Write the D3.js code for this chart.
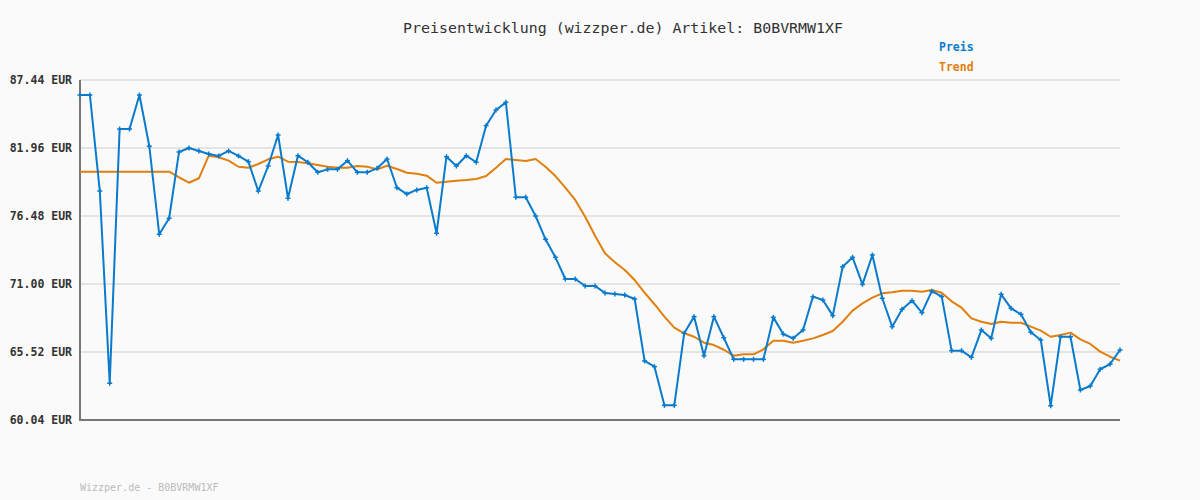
<!DOCTYPE html>
<html><head><meta charset="utf-8">
<script src="https://cdn.jsdelivr.net/npm/d3@7/dist/d3.min.js"></script>
<style>
html,body{margin:0;padding:0;background:#fafafa;}
svg{display:block;}
</style></head>
<body>
<svg id="chart" width="1200" height="500"></svg>
<script>
const title = "Preisentwicklung (wizzper.de) Artikel: B0BVRMW1XF";
const footer = "Wizzper.de - B0BVRMW1XF";
const seriesNames = ["Preis", "Trend"];
const yTicks = [60.04, 65.52, 71.00, 76.48, 81.96, 87.44];
const yTickLabels = ["60.04 EUR", "65.52 EUR", "71.00 EUR", "76.48 EUR", "81.96 EUR", "87.44 EUR"];

const preis = [
 86.23, 86.23, 78.49, 63.00, 83.49, 83.49, 86.23, 82.10, 75.01, 76.30,
 81.64, 81.96, 81.72, 81.48, 81.32, 81.72, 81.32, 80.86, 78.49, 80.51,
 83.01, 77.91, 81.34, 80.81, 80.00, 80.24, 80.24, 80.94, 80.00, 80.00,
 80.32, 81.07, 78.76, 78.25, 78.58, 78.76, 75.09, 81.26, 80.51, 81.34,
 80.81, 83.76, 85.02, 85.64, 77.99, 77.99, 76.48, 74.60, 73.15, 71.40,
 71.40, 70.84, 70.84, 70.28, 70.20, 70.11, 69.79, 64.80, 64.34, 61.22,
 61.22, 67.03, 68.37, 65.22, 68.37, 66.67, 64.93, 64.93, 64.93, 64.93,
 68.31, 66.97, 66.62, 67.29, 69.98, 69.71, 68.45, 72.39, 73.15, 70.97,
 73.34, 69.85, 67.56, 68.96, 69.66, 68.69, 70.42, 69.98, 65.63, 65.63,
 65.09, 67.29, 66.62, 70.17, 69.04, 68.56, 67.11, 66.49, 61.19, 66.75,
 66.75, 62.46, 62.78, 64.13, 64.55, 65.68
];
const trend = [
 80.05, 80.05, 80.05, 80.05, 80.05, 80.05, 80.05, 80.05, 80.05, 80.05,
 79.60, 79.16, 79.52, 81.34, 81.21, 80.94, 80.45, 80.37, 80.67, 81.05,
 81.26, 80.86, 80.83, 80.73, 80.59, 80.45, 80.37, 80.37, 80.51, 80.45,
 80.24, 80.53, 80.27, 79.97, 79.89, 79.73, 79.16, 79.24, 79.33, 79.38,
 79.46, 79.70, 80.37, 81.07, 80.99, 80.91, 81.07, 80.45, 79.70, 78.76,
 77.77, 76.42, 74.89, 73.47, 72.75, 72.13, 71.32, 70.30, 69.37, 68.37,
 67.48, 67.03, 66.75, 66.27, 66.08, 65.70, 65.22, 65.33, 65.33, 65.74,
 66.43, 66.43, 66.27, 66.43, 66.62, 66.89, 67.21, 67.96, 68.85, 69.44,
 69.90, 70.25, 70.33, 70.46, 70.46, 70.38, 70.52, 70.30, 69.60, 69.09,
 68.23, 67.96, 67.78, 67.96, 67.88, 67.88, 67.56, 67.24, 66.75, 66.89,
 67.08, 66.54, 66.17, 65.55, 65.14, 64.82
];

const blue = "#0a7bcc", orange = "#e07f0e";
const mono = "'DejaVu Sans Mono', 'Liberation Mono', monospace";
const svg = d3.select("#chart");
const L = 80, R = 1120, T = 80, B = 420;

const x = d3.scaleLinear().domain([0, preis.length - 1]).range([L, R]);
const y = d3.scaleLinear().domain([60.04, 87.44]).range([B, T]);

// grid
svg.append("g").selectAll("line").data(yTicks).join("line")
  .attr("x1", L).attr("x2", R)
  .attr("y1", d => y(d)).attr("y2", d => y(d))
  .attr("stroke", "#e4e4e4").attr("stroke-width", 2);

// y axis labels via d3 axis
const yAxis = d3.axisLeft(y).tickValues(yTicks).tickSize(0).tickPadding(8)
  .tickFormat((d, i) => yTickLabels[i]);
const ga = svg.append("g").attr("transform", `translate(${L},0)`).call(yAxis);
ga.select(".domain").remove();
ga.selectAll("text").attr("font-family", mono).attr("font-size", 11.5)
  .attr("font-weight", "bold").attr("fill", "#333");

// axis lines
svg.append("line").attr("x1", L).attr("x2", L).attr("y1", T).attr("y2", B + 1)
  .attr("stroke", "#777").attr("stroke-width", 2);
svg.append("line").attr("x1", L - 1).attr("x2", R).attr("y1", B).attr("y2", B)
  .attr("stroke", "#777").attr("stroke-width", 2);

// trend line
const line = d3.line().x((d, i) => x(i)).y(d => y(d));
svg.append("path").datum(trend).attr("d", line).attr("fill", "none")
  .attr("stroke", orange).attr("stroke-width", 2).attr("stroke-linejoin", "round");

// price line
svg.append("path").datum(preis).attr("d", line).attr("fill", "none")
  .attr("stroke", blue).attr("stroke-width", 2).attr("stroke-linejoin", "round");

// markers (+)
const m = svg.append("g").selectAll("g").data(preis).join("g")
  .attr("transform", (d, i) => `translate(${x(i)},${y(d)})`);
m.append("line").attr("x1", -2.5).attr("x2", 2.5).attr("y1", 0).attr("y2", 0)
  .attr("stroke", blue).attr("stroke-width", 1.5);
m.append("line").attr("x1", 0).attr("x2", 0).attr("y1", -2.5).attr("y2", 2.5)
  .attr("stroke", blue).attr("stroke-width", 1.5);

// title
svg.append("text").attr("x", 403).attr("y", 33)
  .attr("font-family", mono).attr("font-size", 14.5).attr("fill", "#333")
  .attr("textLength", 440).attr("lengthAdjust", "spacingAndGlyphs").text(title);

// legend
svg.append("text").attr("x", 939).attr("y", 51).attr("font-family", mono)
  .attr("font-size", 11.5).attr("font-weight", "bold").attr("fill", blue).text(seriesNames[0]);
svg.append("text").attr("x", 939).attr("y", 71).attr("font-family", mono)
  .attr("font-size", 11.5).attr("font-weight", "bold").attr("fill", orange).text(seriesNames[1]);

// footer
svg.append("text").attr("x", 80).attr("y", 491).attr("font-family", mono)
  .attr("font-size", 10).attr("fill", "#bbb").text(footer);
</script>
</body></html>
